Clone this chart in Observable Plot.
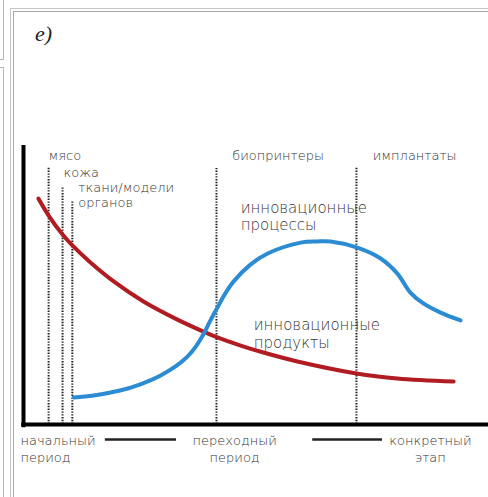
<!DOCTYPE html>
<html>
<head>
<meta charset="utf-8">
<script src="https://cdn.jsdelivr.net/npm/d3@7"></script>
<script src="https://cdn.jsdelivr.net/npm/@observablehq/plot@0.6"></script>
<style>
  html, body { margin: 0; padding: 0; background: #fff; }
  #wrap { position: relative; width: 488px; height: 497px; overflow: hidden; }
  .frame { position: absolute; box-sizing: border-box; }
  #title { position: absolute; left: 35px; top: 21px; font-family: "Liberation Serif", serif; font-style: italic; font-weight: normal; font-size: 22px; color: #222; }
  #chart { position: absolute; left: 0; top: 0; }
</style>
</head>
<body>
<div id="wrap">
  <div class="frame" style="left:-20px; top:-20px; width:24px; height:80px; border:1.5px solid #b5b5b5;"></div>
  <div class="frame" style="left:-20px; top:67px; width:24px; height:460px; border:1.5px solid #b5b5b5;"></div>
  <div class="frame" style="left:10px; top:8px; width:500px; height:520px; border:1.2px solid #c4c4c4;"></div>
  <div class="frame" style="left:13px; top:11px; width:500px; height:520px; border:1.2px solid #a8a8a8;"></div>
  <div id="title">e)</div>
  <div id="chart"></div>
</div>
<script>
// Time axis (0–100) and intensity (0–100)
const productsX = [3.2, 5.4, 8.4, 10.5, 14.4, 19.4, 25.8, 33.1, 38.7, 41.7, 46.7, 51.6, 58.9, 71.6, 80.4, 92.5];
const productsY = [81.0, 74.9, 68.1, 64.2, 58.1, 51.3, 44.1, 37.6, 33.3, 31.2, 28.3, 25.8, 22.6, 18.3, 16.5, 15.4];

const processesX = [10.8, 15.1, 22.4, 26.2, 29.5, 32.7, 35.3, 37.2, 38.9, 40.2, 41.7, 43.4, 45.2, 48.8, 52.5, 59.6, 63.2, 66.0, 71.8, 76.8, 80.4, 83.2, 86.0, 89.7, 94.0];
const processesY = [9.7, 10.4, 12.9, 15.1, 17.6, 20.8, 24.4, 28.3, 33.0, 37.3, 41.9, 47.0, 51.3, 57.3, 61.3, 65.2, 65.6, 65.6, 63.4, 59.5, 54.1, 47.3, 43.4, 40.1, 37.3];

const markerX = [5.4, 8.4, 10.5, 41.5, 71.6];
const markerTop = [92.1, 84.9, 80.3, 91.8, 92.1];

const techLabels = ["мясо", "кожа", "ткани/модели", "органов", "биопринтеры", "имплантаты"];
const techX = [5.4, 8.6, 11.8, 11.8, 44.9, 75.1];
const techY = [96.4, 90.3, 84.9, 79.6, 96.4, 96.4];

const curveLabels = ["инновационные", "процессы", "инновационные", "продукты"];
const curveLabelX = [46.7, 46.7, 49.5, 49.5];
const curveLabelY = [77.4, 71.3, 35.5, 29.0];

const stageLabels = ["начальный", "период", "переходный", "период", "конкретный", "этап"];
const stageX = [-0.65, -0.65, 45.4, 45.4, 87.5, 87.5];
const stageY = [-5.7, -11.8, -5.7, -11.8, -5.7, -11.8];
const stageAnchor = ["start", "start", "middle", "middle", "middle", "middle"];

const connectorX1 = [17.6, 62.2];
const connectorX2 = [32.9, 77.2];
const connectorY = -5.4;

const products = productsX.map((x, i) => ({x, y: productsY[i]}));
const processes = processesX.map((x, i) => ({x, y: processesY[i]}));
const markers = markerX.map((x, i) => ({x, top: markerTop[i]}));
const techs = techLabels.map((t, i) => ({t, x: techX[i], y: techY[i]}));
const curveTexts = curveLabels.map((t, i) => ({t, x: curveLabelX[i], y: curveLabelY[i]}));
const stages = stageLabels.map((t, i) => ({t, x: stageX[i], y: stageY[i], a: stageAnchor[i]}));
const connectors = connectorX1.map((x1, i) => ({x1, x2: connectorX2[i], y: connectorY}));

const font = "DejaVu Sans";
const chart = Plot.plot({
  width: 488,
  height: 497,
  marginLeft: 23,
  marginRight: 0,
  marginTop: 145,
  marginBottom: 73,
  x: {domain: [0, 100], axis: null},
  y: {domain: [0, 100], axis: null},
  style: {background: "transparent", fontFamily: font},
  marks: [
    Plot.ruleX(markers, {x: "x", y1: 0, y2: "top", stroke: "#222", strokeWidth: 2, strokeDasharray: "1.4,1.4"}),
    Plot.line(products, {x: "x", y: "y", stroke: "#b01c22", strokeWidth: 4, curve: "catmull-rom"}),
    Plot.line(processes, {x: "x", y: "y", stroke: "#2b8bd3", strokeWidth: 4, curve: "catmull-rom"}),
    Plot.ruleX([0], {y1: -1.2, y2: 100, stroke: "#000", strokeWidth: 4}),
    Plot.ruleY([0], {x1: -0.4, x2: 100, stroke: "#000", strokeWidth: 4}),
    Plot.text(techs, {x: "x", y: "y", text: "t", textAnchor: "start", fontSize: 13, fill: "#333", fontWeight: 200}),
    Plot.text(curveTexts, {x: "x", y: "y", text: "t", textAnchor: "start", fontSize: 15, fill: "#333", fontWeight: 200}),
    Plot.text(stages.filter(d => d.a === "start"), {x: "x", y: "y", text: "t", textAnchor: "start", fontSize: 13, fill: "#333", fontWeight: 200, clip: false}),
    Plot.text(stages.filter(d => d.a === "middle"), {x: "x", y: "y", text: "t", textAnchor: "middle", fontSize: 13, fill: "#333", fontWeight: 200, clip: false}),
    Plot.ruleY(connectors, {x1: "x1", x2: "x2", y: "y", stroke: "#222", strokeWidth: 2.5})
  ]
});
document.getElementById("chart").appendChild(chart);
</script>
</body>
</html>
